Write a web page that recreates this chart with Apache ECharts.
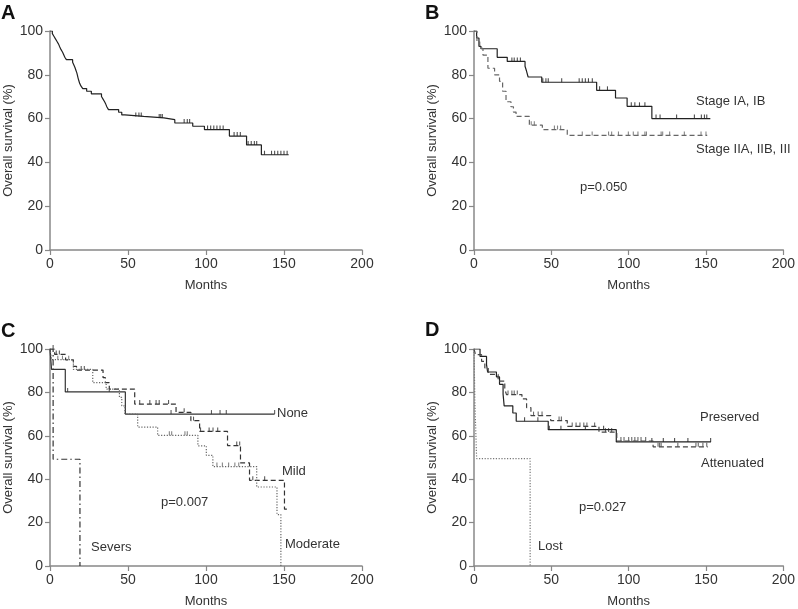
<!DOCTYPE html>
<html><head><meta charset="utf-8">
<script src="https://cdn.jsdelivr.net/npm/echarts@6/dist/echarts.min.js"></script>
<style>html,body{margin:0;padding:0;background:#fff}#c{width:798px;height:609px}</style>
</head><body><div id="c"></div>
<script>
// ---- Tick labels ----
const xTicks = [0, 50, 100, 150, 200];
const yTicks = [0, 20, 40, 60, 80, 100];

// ---- Panel A: all patients ----
const A_times = [0,1.5,2.5,3.5,4.5,5.5,6.2,7,8,8.8,9.5,10.5,14.5,15.3,16,16.6,17.2,17.6,18,18.5,19,19.8,21,23.5,26.5,33,34,35,35.8,36.5,37.5,44,46,48,60,73,80,91.5,99,115,126,135.5,153];
const A_surv  = [100,98.8,97.6,96.4,95.2,94,92.8,91.6,90.4,89.2,88,86.9,85.7,84.5,83.3,82.1,80.9,79.7,78.5,77.3,76.1,74.9,73.7,72.5,71.3,70.1,68.9,67.7,66.5,65.3,64.1,62.9,61.7,61,60.3,59.5,58,56.5,55,52,48,43.5,43.5];
const A_censor = [55,57,58.5,70,71,72,86,88,89.5,101,103,105,107,109,111,118,120,122,127,129,131,132.5,137.5,142,144,146,148,150,152];

// ---- Panel B: stage ----
const B_I_times = [0,1.7,3.2,4.5,15,21.5,33,34,35,43.8,79.3,91.5,99,115,152.8];
const B_I_surv  = [100,96.8,93,91.9,88,86.1,83.9,81.6,79,76.6,72.9,69.4,65.6,60,60];
const B_I_censor = [24.5,26,28,30,44.5,46.5,48,56.7,68,70,72,74,76.5,81.2,86.3,101.7,104,107,110.5,117.7,120.3,131,142.5,147,149,150.5];
const B_II_times = [0,1.9,3.7,5.8,9,13.3,16.5,18.5,20.7,23.9,25.5,27.2,35.8,44.2,60.3,150.8];
const B_II_surv  = [100,95.1,92.1,89,83,80,77,72.5,67.7,65.4,63,61,57,55,52.3,52.3];
const B_II_censor = [37,39,52,54,56,70,76.4,87,89,93.4,99.8,103,106,110.5,111.5,121,122,126.5,136,146.8,150];

// ---- Panel C: severity ----
const C_none_times = [0,1,9.8,48.3,144];
const C_none_surv  = [100,90.6,80.2,70,70];
const C_none_censor = [11.3,38,77.6,103.5,109,113,144];
const C_mild_times = [0,3,10,15,17,34,35.5,38,54.3,80.8,90.3,95.9,113.8,122.1,127.9,150.3,153.5];
const C_mild_surv  = [100,97.5,95,92,90.3,86.8,84.5,81.5,74.6,70.8,67,62,55.5,47.5,39.5,26.2,26.2];
const C_mild_censor = [2,4,6,20,22,57.5,64,68,70,76,86,92,96.5,102,104.5,107.5,119.7,121.6,130,137.6];
const C_mod_times = [0,1,15,27.4,36,44.5,46,48,56.2,69,94.8,100.2,104.4,132.5,145.5,148];
const C_mod_surv  = [100,95.1,90.6,84.5,81.5,77.7,73.8,70,64,60.2,55.4,51,45.8,36.4,23.7,0];
const C_mod_censor = [5,8,12,76.5,78,86.5,88,107,110.5,114.5,118.5,121];
const C_sev_times = [0,2,19.2];
const C_sev_surv  = [100,49.2,0];

// ---- Panel D: function ----
const D_pres_times = [0,3.9,8.1,8.8,14.5,16.5,18.8,19.5,25.1,27.3,48,92,153.2];
const D_pres_surv  = [100,96.6,92.8,89.4,87.2,83.7,79.2,73.8,70.5,66.7,62.8,57.2,57.2];
const D_pres_censor = [32.7,41.3,48.7,56.2,72,83.8,115,122.4,129.7,138.3,153];
const D_att_times = [0,1,4.9,7,9.2,15.6,19.9,21,31,34,36.8,49.6,60.3,80.8,92.3,115.8,151.1];
const D_att_surv  = [100,97.4,94.3,91.3,88.3,85.2,81.5,79,77,73,69.3,67,64.3,61.7,57.6,54.9,54.9];
const D_att_censor = [22,24.5,26,28,38.5,41.5,44,55,56.5,63.5,66,68.5,71,73,78,85,87,89,95,97,100,102,104,106,108,111,119,120,121,131.8,143.5,145,148,150.5];
const D_lost_times = [0,0.6,1.7,36.3];
const D_lost_surv  = [100,74.6,49.5,0];

const FONT = '"Liberation Sans", Arial, sans-serif';
const SOLID = 'solid', DASHED = [5,3], DOTTED = [1.2,1.6], DASHDOT = [6,3,1.5,3];

function pairs(t, s){ return t.map((v,i)=>[v, s[i]]); }
function survAt(t, s, x){ let v = s[0]; for (let i=0;i<t.length;i++){ if (t[i] <= x) v = s[i]; } return v; }

const series = [];
function addCurve(gi, t, s, type, color, censor){
  series.push({type:'line', xAxisIndex:gi, yAxisIndex:gi, step:'end', symbol:'none', silent:true,
    data:pairs(t,s), lineStyle:{color:color, width:1.2, type:type}});
  if (censor && censor.length){
    series.push({type:'scatter', xAxisIndex:gi, yAxisIndex:gi, silent:true, symbol:'rect',
      symbolSize:[1.1,4], symbolOffset:[0,-2], itemStyle:{color:color},
      data: censor.map(x=>[x, survAt(t,s,x)])});
  }
}
addCurve(0, A_times, A_surv, SOLID, '#222', A_censor);
addCurve(1, B_I_times, B_I_surv, SOLID, '#222', B_I_censor);
addCurve(1, B_II_times, B_II_surv, DASHED, '#666', B_II_censor);
addCurve(2, C_none_times, C_none_surv, SOLID, '#333', C_none_censor);
addCurve(2, C_mild_times, C_mild_surv, DASHED, '#333', C_mild_censor);
addCurve(2, C_mod_times, C_mod_surv, DOTTED, '#666', C_mod_censor);
addCurve(2, C_sev_times, C_sev_surv, DASHDOT, '#333', null);
addCurve(3, D_pres_times, D_pres_surv, SOLID, '#222', D_pres_censor);
addCurve(3, D_att_times, D_att_surv, DASHED, '#444', D_att_censor);
addCurve(3, D_lost_times, D_lost_surv, DOTTED, '#777', null);

const grids = [
  {left:50, top:31, width:312, height:219},
  {left:474, top:31, width:313, height:219},
  {left:50, top:349, width:312, height:220},
  {left:474, top:349, width:313, height:220}
];
const axisLine = {lineStyle:{color:'#888', width:1.5}};
const axisTick = {length:5, lineStyle:{color:'#888', width:1.2}};
const xAxes = grids.map((g,i)=>({gridIndex:i, type:'value', min:xTicks[0], max:xTicks[xTicks.length-1], interval:xTicks[1]-xTicks[0],
  splitLine:{show:false}, axisLine:axisLine, axisTick:axisTick,
  axisLabel:{color:'#333', fontSize:14, fontFamily:FONT, margin:7, showMaxLabel:true, showMinLabel:true},
  name:'Months', nameLocation:'middle', nameGap:29, nameTextStyle:{color:'#333', fontSize:13, fontFamily:FONT}}));
const yAxes = grids.map((g,i)=>({gridIndex:i, type:'value', min:yTicks[0], max:yTicks[yTicks.length-1], interval:yTicks[1]-yTicks[0],
  splitLine:{show:false}, axisLine:axisLine, axisTick:axisTick,
  axisLabel:{color:'#333', fontSize:14, fontFamily:FONT, margin:7},
  name:'Overall survival (%)', nameLocation:'middle', nameGap:35, nameTextStyle:{color:'#333', fontSize:13, fontFamily:FONT}}));

function txt(x, y, s, size, bold){
  return {type:'text', x:x, y:y, style:{text:s, fill: bold ? '#111' : '#333', fontSize:size, fontWeight: bold?'bold':'normal',
    fontFamily: bold ? '"Liberation Sans Narrow", "Liberation Sans", Arial, sans-serif' : FONT, verticalAlign:'middle', align:'left'}};
}
const graphic = [
  txt(1, 13, 'A', 20, true), txt(425, 13, 'B', 20, true),
  txt(1, 331, 'C', 20, true), txt(425, 330, 'D', 20, true),
  txt(696, 101, 'Stage IA, IB', 13), txt(696, 149, 'Stage IIA, IIB, III', 13), txt(580, 187, 'p=0.050', 13),
  txt(277, 413, 'None', 13), txt(282, 471, 'Mild', 13), txt(285, 544, 'Moderate', 13),
  txt(161, 502, 'p=0.007', 13), txt(91, 547, 'Severs', 13),
  txt(700, 417, 'Preserved', 13), txt(701, 463, 'Attenuated', 13),
  txt(579, 507, 'p=0.027', 13), txt(538, 546, 'Lost', 13)
];

const chart = echarts.init(document.getElementById('c'), null, {renderer:'canvas'});
chart.setOption({animation:false, backgroundColor:'#fff', grid:grids, xAxis:xAxes, yAxis:yAxes, series:series, graphic:graphic});
</script></body></html>
